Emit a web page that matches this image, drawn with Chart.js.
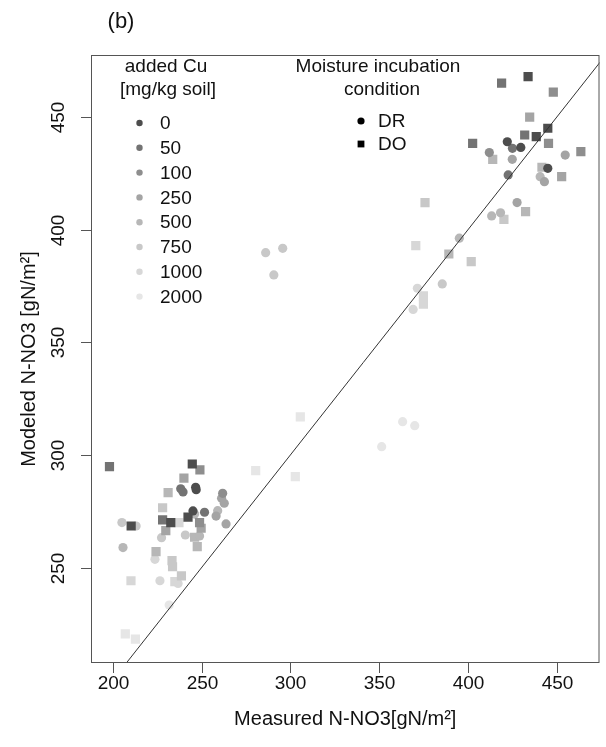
<!DOCTYPE html>
<html>
<head>
<meta charset="utf-8">
<script src="https://cdn.jsdelivr.net/npm/chart.js@4.4.1/dist/chart.umd.min.js"></script>
<style>
  html, body { margin: 0; padding: 0; background: #fff; }
  canvas { display: block; }
</style>
</head>
<body>
<canvas id="scatterChart" width="606" height="747"></canvas>
<script>
// ---- data: [measured, modeled] ----
const cuLevels = ['0', '50', '100', '250', '500', '750', '1000', '2000'];
const moistureLabels = ['DR', 'DO'];
const xTicks = [200, 250, 300, 350, 400, 450];
const yTicks = [250, 300, 350, 400, 450];

// DR (circles)
const dr_0 = [[246.7, 285.7], [247, 284.6], [245.2, 275.2], [422.1, 439.0], [429.7, 436.5], [444.9, 427.2]];
const dr_50 = [[238.3, 285], [239.6, 283.6], [251.7, 274.6], [425.0, 436.1], [422.6, 424.3]];
const dr_100 = [[261.9, 283.0], [412.0, 434.2]];
const dr_250 = [[261.3, 280.8], [262.8, 278.6], [258.2, 272.9], [263.8, 269.4], [424.9, 431.2], [454.7, 433.1], [443.0, 421.3], [427.6, 412.0]];
const dr_500 = [[259.1, 275.3], [246.1, 273.8], [248.9, 264.1], [205.8, 258.9], [440.6, 423.5], [413.3, 406.1], [418.3, 407.5], [395.1, 396.2]];
const dr_750 = [[205.2, 270.0], [213.2, 268.5], [227.5, 263.3], [240.9, 264.5], [286.1, 389.8], [295.7, 391.7], [290.7, 379.9], [385.5, 375.9]];
const dr_1000 = [[223.8, 253.7], [226.6, 244.2], [236.8, 243.0], [371.5, 374.0], [369.1, 364.6]];
const dr_2000 = [[231.8, 233.4], [363.2, 314.8], [370, 313.0], [351.4, 303.7]];

// DO (squares)
const do_0 = [[244.8, 296.0], [242.4, 272.4], [232.7, 270.0], [210.4, 268.5], [433.8, 467.9], [438.4, 441.3], [444.9, 445.0]];
const do_50 = [[198.2, 294.8], [228.1, 271.2], [418.9, 465.0], [431.9, 442.0], [402.6, 438.3]];
const do_100 = [[249.1, 293.4], [248.9, 270.0], [448.0, 461.0], [445.3, 438.3], [463.5, 434.6]];
const do_250 = [[240.1, 289.7], [249.8, 267.5], [229.9, 266.4], [434.7, 449.9], [452.7, 423.5]];
const do_500 = [[231.2, 283.3], [246.1, 263.5], [247.6, 259.3], [224.4, 257.1], [413.9, 431.2], [441.6, 427.7], [432.4, 408.0], [389.2, 389.2]];
const do_750 = [[228.1, 276.6], [233.4, 253.1], [233.7, 250.4], [238.7, 246.4], [420.2, 404.6], [375.8, 412.0], [401.8, 385.8]];
const do_1000 = [[237.3, 270.0], [210.3, 244.2], [235, 243.8], [370.6, 392.9], [374.9, 370.6], [374.9, 366.9]];
const do_2000 = [[207.1, 220.6], [212.8, 218.3], [280.5, 293.1], [302.8, 290.4], [305.6, 316.9]];

const drSeries = [dr_0, dr_50, dr_100, dr_250, dr_500, dr_750, dr_1000, dr_2000];
const doSeries = [do_0, do_50, do_100, do_250, do_500, do_750, do_1000, do_2000];

const grays = ['#4d4d4d', '#737373', '#8e8e8e', '#a4a4a4', '#b7b7b7', '#c8c8c8', '#d7d7d7', '#e6e6e6'];
const FONT = '"Liberation Sans", Arial, sans-serif';

const toXY = arr => arr.map(p => ({ x: p[0], y: p[1] }));

const datasets = [{
  type: 'line',
  label: '1:1',
  data: [{ x: 150, y: 150 }, { x: 500, y: 500 }],
  borderColor: '#333',
  borderWidth: 1,
  pointRadius: 0,
  order: -1
}];

cuLevels.forEach((lvl, i) => {
  datasets.push({
    label: 'DR ' + lvl,
    data: toXY(drSeries[i]),
    pointStyle: 'circle',
    pointRadius: 4.6,
    backgroundColor: grays[i],
    borderWidth: 0,
    order: i
  });
  datasets.push({
    label: 'DO ' + lvl,
    data: toXY(doSeries[i]),
    pointStyle: 'rect',
    pointRadius: 6.5,
    backgroundColor: grays[i],
    borderWidth: 0,
    order: i
  });
});

// frame, ticks, axis text, legends
const decorations = {
  id: 'decorations',
  afterDraw(chart) {
    const { ctx, chartArea: a, scales } = chart;
    ctx.save();
    ctx.strokeStyle = '#555';
    ctx.lineWidth = 1;
    ctx.strokeRect(a.left + 0.5, a.top + 0.5, a.right - a.left - 1, a.bottom - a.top - 1);

    ctx.fillStyle = '#111';
    ctx.font = '19px ' + FONT;
    ctx.textAlign = 'center';
    ctx.textBaseline = 'middle';
    xTicks.forEach(v => {
      const px = Math.round(scales.x.getPixelForValue(v)) + 0.5;
      ctx.beginPath();
      ctx.moveTo(px, a.bottom);
      ctx.lineTo(px, a.bottom + 10);
      ctx.stroke();
      ctx.fillText(String(v), px, 684);
    });
    yTicks.forEach(v => {
      const py = Math.round(scales.y.getPixelForValue(v)) + 0.5;
      ctx.beginPath();
      ctx.moveTo(a.left, py);
      ctx.lineTo(a.left - 10, py);
      ctx.stroke();
      ctx.save();
      ctx.translate(59, py);
      ctx.rotate(-Math.PI / 2);
      ctx.fillText(String(v), 0, 0);
      ctx.restore();
    });

    ctx.font = '20px ' + FONT;
    ctx.fillText('Measured N-NO3[gN/m\u00b2]', (a.left + a.right) / 2, 719);
    ctx.save();
    ctx.translate(29, (a.top + a.bottom) / 2);
    ctx.rotate(-Math.PI / 2);
    ctx.fillText('Modeled N-NO3 [gN/m\u00b2]', 0, 0);
    ctx.restore();

    ctx.font = '22px ' + FONT;
    ctx.fillText('(b)', 121, 22);

    // Cu legend
    ctx.font = '19px ' + FONT;
    ctx.fillText('added Cu', 166, 67);
    ctx.fillText('[mg/kg soil]', 168, 90);
    ctx.textAlign = 'left';
    cuLevels.forEach((lvl, i) => {
      const ly = 123 + i * 24.8;
      ctx.fillStyle = grays[i];
      ctx.beginPath();
      ctx.arc(139.5, ly, 3.2, 0, Math.PI * 2);
      ctx.fill();
      ctx.fillStyle = '#111';
      ctx.fillText(lvl, 160, ly + 1);
    });

    // moisture legend
    ctx.textAlign = 'center';
    ctx.fillText('Moisture incubation', 378, 67);
    ctx.fillText('condition', 382, 90);
    ctx.textAlign = 'left';
    ctx.fillStyle = '#000';
    ctx.beginPath();
    ctx.arc(361, 121, 3.6, 0, Math.PI * 2);
    ctx.fill();
    ctx.fillRect(357.6, 140.6, 6.8, 6.8);
    ctx.fillStyle = '#111';
    ctx.fillText(moistureLabels[0], 378, 122);
    ctx.fillText(moistureLabels[1], 378, 145);
    ctx.restore();
  }
};

new Chart(document.getElementById('scatterChart').getContext('2d'), {
  type: 'scatter',
  data: { datasets },
  options: {
    responsive: false,
    animation: false,
    layout: { padding: { left: 91, right: 2, top: 55, bottom: 84 } },
    plugins: {
      legend: { display: false },
      tooltip: { enabled: false }
    },
    scales: {
      x: { type: 'linear', min: 187.8, max: 474, display: false },
      y: { type: 'linear', min: 207.7, max: 477.5, display: false }
    }
  },
  plugins: [decorations]
});
</script>
</body>
</html>
